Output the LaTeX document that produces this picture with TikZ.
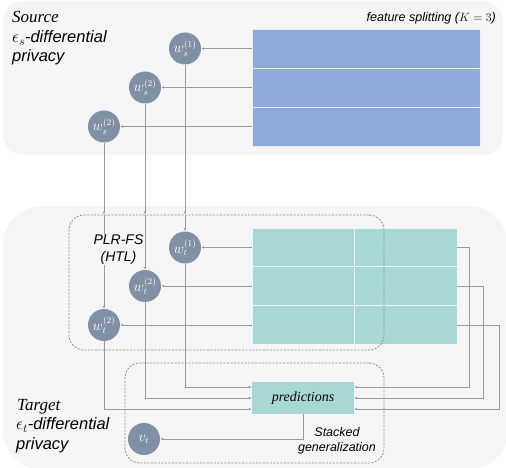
\documentclass[tikz,border=0pt]{standalone}
\usepackage{fontspec}
\setmainfont{Liberation Serif}
\setsansfont{Liberation Sans}
\usetikzlibrary{calc,arrows.meta}

\definecolor{panelgray}{HTML}{F5F5F5}
\definecolor{nodegray}{HTML}{8091A5}
\definecolor{rowblue}{HTML}{8FAADC}
\definecolor{rowteal}{HTML}{A8D8D5}
\definecolor{linegray}{HTML}{9A9A9A}
\definecolor{dashgray}{HTML}{8C8C8C}

\begin{document}
\begin{tikzpicture}[%
    x=1pt, y=-1pt,
    panel/.style={
      fill=panelgray,
      draw=none
    },
    wnode/.style={
      circle,
      fill=nodegray,
      text=white,
      minimum size=32pt,
      inner sep=0pt,
      font=\fontsize{13.5}{13.5}\selectfont
    },
    srow/.style={
      rectangle,
      fill=rowblue,
      draw=white!80!rowblue,
      line width=0.8pt,
      minimum width=228pt,
      minimum height=39pt,
      inner sep=0pt
    },
    trow/.style={
      srow,
      fill=rowteal,
      draw=white!80!rowteal,
      minimum width=205pt
    },
    groupbox/.style={
      rectangle,
      draw=dashgray,
      dash pattern=on 2pt off 1.5pt,
      line width=0.8pt,
      rounded corners=15pt,
      inner sep=0pt
    },
    arr/.style={
      draw=linegray,
      line width=0.8pt,
      -{Latex[length=3pt,width=2.6pt]}
    },
    sidetext/.style={
      anchor=base west,
      inner sep=0pt,
      font=\fontsize{16.5}{19}\selectfont\sffamily\itshape
    },
    sidehead/.style={
      sidetext,
      font=\fontsize{17}{19}\selectfont\rmfamily\itshape
    },
    notetext/.style={
      align=center,
      inner sep=0pt,
      font=\sffamily\itshape
    }
  ]
    \useasboundingbox (0,0) rectangle (506,468);

    % panels
    \fill[panel, rounded corners=20pt] (3,1) rectangle (503,155);
    \fill[panel, rounded corners=40pt] (3,206) rectangle (508,470);

    % source side
    \node[sidehead] (srchead) at (12,23) {Source};
    \node[sidetext] (srcdp) at (12,42.5) {$\epsilon_s$-differential};
    \node[sidetext] (srcpriv) at (12,61.5) {privacy};
    \node[notetext, anchor=base east, font=\fontsize{12.5}{14}\selectfont\sffamily\itshape]
      (split) at (496,22) {feature splitting ($K=3$)};

    \node[srow] (s1) at (366,48.5) {};
    \node[srow] (s2) at (366,87.5) {};
    \node[srow] (s3) at (366,126.5) {};

    \node[wnode] (ws1) at (185,48.5) {$w_s^{(1)}$};
    \node[wnode] (ws2) at (145,87.5) {$w_s^{(2)}$};
    \node[wnode] (ws3) at (104,126.5) {$w_s^{(2)}$};

    % target side
    \node[sidehead] (tgthead) at (17,410) {Target};
    \node[sidetext] (tgtdp) at (16,429.5) {$\epsilon_t$-differential};
    \node[sidetext] (tgtpriv) at (16,449) {privacy};

    \node[trow] (t1) at (354.5,247.5) {};
    \node[trow] (t2) at (354.5,286) {};
    \node[trow] (t3) at (354.5,325) {};
    \draw[white!80!rowteal, line width=0.8pt] (t1.north) -- (t3.south);

    \node[groupbox, minimum width=315pt, minimum height=135pt] (plr) at (226.5,282.5) {};
    \node[groupbox, minimum width=259pt, minimum height=100pt] (stack) at (254.5,413) {};

    \node[wnode] (wt1) at (185,247.5) {$w_t^{(1)}$};
    \node[wnode] (wt2) at (145,286) {$w_t^{(2)}$};
    \node[wnode] (wt3) at (104,325) {$w_t^{(2)}$};

    \node[rectangle, fill=rowteal, minimum width=102pt, minimum height=32pt,
      font=\fontsize{14}{14}\selectfont\rmfamily\itshape] (pred) at (303,398) {predictions};
    \node[wnode] (vt) at (144,439) {$v_t$};

    % source -> target
    \draw[arr] (s1.west) -- (ws1);
    \draw[arr] (s2.west) -- (ws2);
    \draw[arr] (s3.west) -- (ws3);
    \draw[arr] (ws3) -- (ws3 |- plr.north);
    \draw[arr] (ws3 |- plr.north) -- (wt3);

    \node[notetext, fill=panelgray, font=\fontsize{14}{17}\selectfont\sffamily\itshape]
      (plrlabel) at (118.5,250) {PLR-FS\\(HTL)};

    \draw[arr] (ws2) -- (ws2 |- plr.north);
    \draw[arr] (ws2 |- plr.north) -- (wt2);
    \draw[arr] (ws1) -- (ws1 |- plr.north);
    \draw[arr] (ws1 |- plr.north) -- (wt1);

    \draw[arr] (t1.west) -- (wt1);
    \draw[arr] (t2.west) -- (wt2);
    \draw[arr] (t3.west) -- (wt3);

    % stacking
    \draw[arr] (wt1) |- ($(pred.west)+(0,-11)$);
    \draw[arr] (wt2) |- (pred.west);
    \draw[arr] (wt3) |- ($(pred.west)+(0,11)$);
    \draw[arr] (t1.east) -- ++(12,0) |- ($(pred.east)+(0,-11)$);
    \draw[arr] (t2.east) -- ++(26,0) |- (pred.east);
    \draw[arr] (t3.east) -- ++(42,0) |- ($(pred.east)+(0,11)$);
    \draw[arr] (pred.south) |- (vt);

    \node[notetext, font=\fontsize{12.5}{15}\selectfont\sffamily\itshape]
      (stacklabel) at (337,441) {Stacked\\generalization};

  \end{tikzpicture}
\end{document}
